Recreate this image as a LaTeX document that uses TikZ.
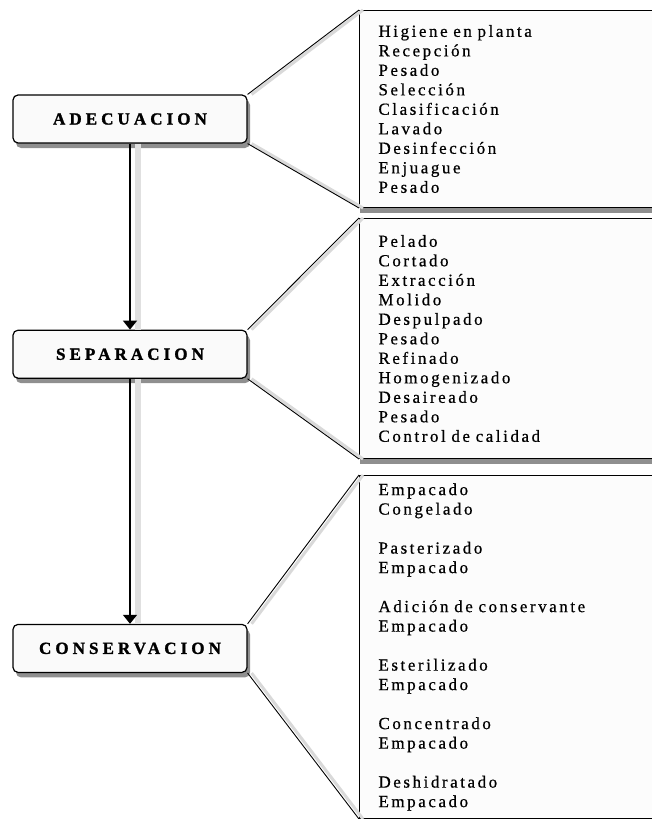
\documentclass[tikz,border=0pt]{standalone}
\usepackage{fontspec}
\setmainfont{Liberation Serif}
\newfontfamily\stagefont[LetterSpace=24,FakeBold=1.5]{Liberation Serif Bold}
\newfontfamily\listfont[LetterSpace=15,FakeBold=0.6]{Liberation Serif}
\usetikzlibrary{arrows.meta,positioning,shadows}

\begin{document}
\begin{tikzpicture}[
    x=1pt, y=-1pt,
    thick,
    stage node/.style={rectangle,rounded corners=5pt,draw,line width=1.2pt,fill=black!2,
      minimum width=234pt,minimum height=48pt,inner sep=0pt,
      font=\stagefont\fontsize{17}{20}\selectfont,
      drop shadow={shadow xshift=3pt,shadow yshift=-5pt,fill=black!55,opacity=.8}},
    list node/.style={rectangle,draw,line width=1pt,fill=black!1,anchor=north west,
      minimum width=300pt,text width=262pt,inner xsep=19pt,align=left,
      font=\listfont\fontsize{17}{19.5}\selectfont,
      drop shadow={shadow xshift=0pt,shadow yshift=-5pt,fill=black!55,opacity=.8}},
    flow/.style={-{Triangle[width=14pt,length=9pt]},line width=1.6pt,
      preaction={draw=black!12,line width=6pt,-,transform canvas={xshift=8pt}}},
    callout/.style={line width=.9pt,
      preaction={draw=black!15,line width=3pt,transform canvas={xshift=4pt}}}]

  \useasboundingbox (0,0) rectangle (652,819);
  \clip (0,0) rectangle (652,819);

  % stages
  \node[stage node] (adec) at (130,119) {ADECUACION};
  \node[stage node] (sepa) [below=186pt of adec] {SEPARACION};
  \node[stage node] (cons) [below=245pt of sepa] {CONSERVACION};

  % operations of each stage
  \node[list node,minimum height=197pt] (adecList) at (359,10) {%
    Higiene en planta\\ Recepción\\ Pesado\\ Selección\\ Clasificación\\
    Lavado\\ Desinfección\\ Enjuague\\ Pesado};
  \node[list node,minimum height=240pt] (sepaList) at (359,218) {%
    Pelado\\ Cortado\\ Extracción\\ Molido\\ Despulpado\\ Pesado\\ Refinado\\
    Homogenizado\\ Desaireado\\ Pesado\\ Control de calidad};
  \node[list node,minimum height=343pt] (consList) at (359,475) {%
    Empacado\\ Congelado\\[19.5pt]
    Pasterizado\\ Empacado\\[19.5pt]
    Adición de conservante\\ Empacado\\[19.5pt]
    Esterilizado\\ Empacado\\[19.5pt]
    Concentrado\\ Empacado\\[19.5pt]
    Deshidratado\\ Empacado};

  \draw[flow] (adec) -- (sepa);
  \draw[flow] (sepa) -- (cons);

  \draw[callout] (adec.north east) -- (adecList.north west);
  \draw[callout] (adec.south east) -- (adecList.south west);
  \draw[callout] (sepa.north east) -- (sepaList.north west);
  \draw[callout] (sepa.south east) -- (sepaList.south west);
  \draw[callout] (cons.north east) -- (consList.north west);
  \draw[callout] (cons.south east) -- (consList.south west);
\end{tikzpicture}
\end{document}
